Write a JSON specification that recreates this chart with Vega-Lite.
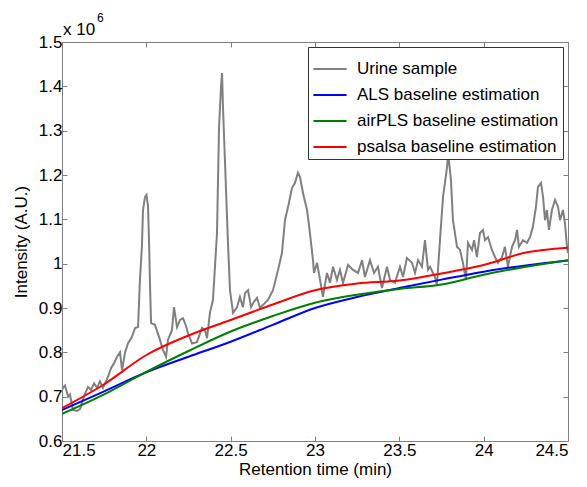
{
  "$schema": "https://vega.github.io/schema/vega-lite/v6.json",
  "width": 506,
  "height": 399,
  "autosize": {"type": "none"},
  "padding": {"left": 62, "top": 42, "right": 19, "bottom": 46},
  "background": "white",
  "config": {
    "font": "Liberation Sans",
    "view": {"stroke": "#808080", "strokeWidth": 1},
    "axis": {"grid": false, "domain": false, "tickColor": "#808080", "labelColor": "black", "titleColor": "black", "labelFont": "Liberation Sans", "titleFont": "Liberation Sans", "titleFontWeight": "normal", "labelFontSize": 17, "titleFontSize": 17}
  },
  "datasets": {
    "urine": [
      {"t": 21.500, "v": 0.715}, {"t": 21.506, "v": 0.720}, {"t": 21.518, "v": 0.725}, {"t": 21.536, "v": 0.700}, {"t": 21.547, "v": 0.705},
      {"t": 21.565, "v": 0.670}, {"t": 21.589, "v": 0.668}, {"t": 21.607, "v": 0.672}, {"t": 21.630, "v": 0.700}, {"t": 21.654, "v": 0.722},
      {"t": 21.672, "v": 0.715}, {"t": 21.690, "v": 0.730}, {"t": 21.708, "v": 0.720}, {"t": 21.725, "v": 0.735}, {"t": 21.743, "v": 0.720},
      {"t": 21.773, "v": 0.745}, {"t": 21.791, "v": 0.765}, {"t": 21.808, "v": 0.775}, {"t": 21.826, "v": 0.790}, {"t": 21.844, "v": 0.800},
      {"t": 21.856, "v": 0.760}, {"t": 21.874, "v": 0.800}, {"t": 21.891, "v": 0.820}, {"t": 21.915, "v": 0.835}, {"t": 21.933, "v": 0.855},
      {"t": 21.951, "v": 0.857}, {"t": 21.962, "v": 0.963}, {"t": 21.974, "v": 1.040}, {"t": 21.980, "v": 1.120}, {"t": 21.992, "v": 1.150},
      {"t": 22.001, "v": 1.155}, {"t": 22.010, "v": 1.130}, {"t": 22.016, "v": 1.050}, {"t": 22.022, "v": 0.950}, {"t": 22.028, "v": 0.866},
      {"t": 22.051, "v": 0.862}, {"t": 22.081, "v": 0.828}, {"t": 22.099, "v": 0.805}, {"t": 22.117, "v": 0.790}, {"t": 22.128, "v": 0.828},
      {"t": 22.152, "v": 0.850}, {"t": 22.164, "v": 0.902}, {"t": 22.182, "v": 0.857}, {"t": 22.200, "v": 0.873}, {"t": 22.217, "v": 0.877},
      {"t": 22.235, "v": 0.860}, {"t": 22.247, "v": 0.843}, {"t": 22.271, "v": 0.820}, {"t": 22.300, "v": 0.823}, {"t": 22.330, "v": 0.855},
      {"t": 22.348, "v": 0.850}, {"t": 22.360, "v": 0.832}, {"t": 22.377, "v": 0.889}, {"t": 22.395, "v": 0.918}, {"t": 22.419, "v": 1.069},
      {"t": 22.431, "v": 1.308}, {"t": 22.443, "v": 1.400}, {"t": 22.449, "v": 1.430}, {"t": 22.455, "v": 1.347}, {"t": 22.466, "v": 1.234},
      {"t": 22.484, "v": 1.047}, {"t": 22.496, "v": 0.940}, {"t": 22.514, "v": 0.889}, {"t": 22.538, "v": 0.902}, {"t": 22.555, "v": 0.925},
      {"t": 22.573, "v": 0.902}, {"t": 22.585, "v": 0.934}, {"t": 22.603, "v": 0.940}, {"t": 22.621, "v": 0.902}, {"t": 22.638, "v": 0.914},
      {"t": 22.656, "v": 0.923}, {"t": 22.674, "v": 0.900}, {"t": 22.692, "v": 0.907}, {"t": 22.721, "v": 0.918}, {"t": 22.751, "v": 0.940},
      {"t": 22.781, "v": 0.986}, {"t": 22.804, "v": 1.024}, {"t": 22.822, "v": 1.098}, {"t": 22.840, "v": 1.128}, {"t": 22.864, "v": 1.171},
      {"t": 22.881, "v": 1.182}, {"t": 22.899, "v": 1.205}, {"t": 22.911, "v": 1.196}, {"t": 22.929, "v": 1.159}, {"t": 22.953, "v": 1.121},
      {"t": 22.970, "v": 1.069}, {"t": 22.988, "v": 1.008}, {"t": 22.994, "v": 0.979}, {"t": 23.012, "v": 1.002}, {"t": 23.030, "v": 0.963},
      {"t": 23.047, "v": 0.925}, {"t": 23.071, "v": 0.979}, {"t": 23.089, "v": 0.957}, {"t": 23.107, "v": 0.993}, {"t": 23.130, "v": 0.963},
      {"t": 23.148, "v": 0.986}, {"t": 23.166, "v": 0.957}, {"t": 23.196, "v": 0.997}, {"t": 23.225, "v": 0.986}, {"t": 23.255, "v": 0.979},
      {"t": 23.279, "v": 1.008}, {"t": 23.296, "v": 0.970}, {"t": 23.326, "v": 1.008}, {"t": 23.350, "v": 0.979}, {"t": 23.373, "v": 0.993},
      {"t": 23.397, "v": 0.945}, {"t": 23.427, "v": 0.993}, {"t": 23.445, "v": 0.963}, {"t": 23.474, "v": 0.957}, {"t": 23.504, "v": 0.993},
      {"t": 23.522, "v": 0.970}, {"t": 23.545, "v": 1.013}, {"t": 23.575, "v": 1.002}, {"t": 23.593, "v": 0.979}, {"t": 23.611, "v": 1.008},
      {"t": 23.634, "v": 0.993}, {"t": 23.652, "v": 1.053}, {"t": 23.670, "v": 0.986}, {"t": 23.682, "v": 0.993}, {"t": 23.711, "v": 0.970},
      {"t": 23.723, "v": 0.952}, {"t": 23.741, "v": 1.053}, {"t": 23.759, "v": 1.150}, {"t": 23.783, "v": 1.218}, {"t": 23.789, "v": 1.250},
      {"t": 23.806, "v": 1.189}, {"t": 23.818, "v": 1.098}, {"t": 23.842, "v": 1.038}, {"t": 23.860, "v": 1.031}, {"t": 23.877, "v": 1.002},
      {"t": 23.895, "v": 0.963}, {"t": 23.907, "v": 1.047}, {"t": 23.931, "v": 1.031}, {"t": 23.943, "v": 1.053}, {"t": 23.960, "v": 1.015},
      {"t": 23.978, "v": 1.069}, {"t": 23.996, "v": 1.076}, {"t": 24.008, "v": 1.053}, {"t": 24.026, "v": 1.060}, {"t": 24.049, "v": 1.031},
      {"t": 24.067, "v": 1.015}, {"t": 24.085, "v": 1.002}, {"t": 24.109, "v": 1.015}, {"t": 24.126, "v": 1.038}, {"t": 24.144, "v": 0.993},
      {"t": 24.168, "v": 1.038}, {"t": 24.186, "v": 1.053}, {"t": 24.198, "v": 1.076}, {"t": 24.209, "v": 1.038}, {"t": 24.233, "v": 1.053},
      {"t": 24.257, "v": 1.047}, {"t": 24.275, "v": 1.060}, {"t": 24.292, "v": 1.083}, {"t": 24.310, "v": 1.128}, {"t": 24.322, "v": 1.173},
      {"t": 24.340, "v": 1.182}, {"t": 24.352, "v": 1.150}, {"t": 24.364, "v": 1.098}, {"t": 24.375, "v": 1.121}, {"t": 24.387, "v": 1.076},
      {"t": 24.405, "v": 1.121}, {"t": 24.423, "v": 1.144}, {"t": 24.441, "v": 1.128}, {"t": 24.453, "v": 1.098}, {"t": 24.470, "v": 1.121},
      {"t": 24.482, "v": 1.092}, {"t": 24.494, "v": 1.038}, {"t": 24.500, "v": 1.024}
    ],
    "baselines": [
      {"s": "ALS baseline estimation", "t": 21.5, "v": 0.670}, {"s": "ALS baseline estimation", "t": 21.75, "v": 0.712},
      {"s": "ALS baseline estimation", "t": 22.0, "v": 0.755}, {"s": "ALS baseline estimation", "t": 22.25, "v": 0.790},
      {"s": "ALS baseline estimation", "t": 22.5, "v": 0.824}, {"s": "ALS baseline estimation", "t": 22.75, "v": 0.862},
      {"s": "ALS baseline estimation", "t": 23.0, "v": 0.900}, {"s": "ALS baseline estimation", "t": 23.25, "v": 0.925},
      {"s": "ALS baseline estimation", "t": 23.5, "v": 0.945}, {"s": "ALS baseline estimation", "t": 23.75, "v": 0.964},
      {"s": "ALS baseline estimation", "t": 24.0, "v": 0.982}, {"s": "ALS baseline estimation", "t": 24.25, "v": 0.996},
      {"s": "ALS baseline estimation", "t": 24.5, "v": 1.007},
      {"s": "airPLS baseline estimation", "t": 21.5, "v": 0.661}, {"s": "airPLS baseline estimation", "t": 21.75, "v": 0.705},
      {"s": "airPLS baseline estimation", "t": 22.0, "v": 0.756}, {"s": "airPLS baseline estimation", "t": 22.25, "v": 0.803},
      {"s": "airPLS baseline estimation", "t": 22.5, "v": 0.847}, {"s": "airPLS baseline estimation", "t": 22.75, "v": 0.882},
      {"s": "airPLS baseline estimation", "t": 23.0, "v": 0.912}, {"s": "airPLS baseline estimation", "t": 23.25, "v": 0.930},
      {"s": "airPLS baseline estimation", "t": 23.5, "v": 0.943}, {"s": "airPLS baseline estimation", "t": 23.75, "v": 0.953},
      {"s": "airPLS baseline estimation", "t": 24.0, "v": 0.975}, {"s": "airPLS baseline estimation", "t": 24.25, "v": 0.993},
      {"s": "airPLS baseline estimation", "t": 24.5, "v": 1.008},
      {"s": "psalsa baseline estimation", "t": 21.5, "v": 0.674}, {"s": "psalsa baseline estimation", "t": 21.75, "v": 0.728},
      {"s": "psalsa baseline estimation", "t": 22.0, "v": 0.794}, {"s": "psalsa baseline estimation", "t": 22.25, "v": 0.838},
      {"s": "psalsa baseline estimation", "t": 22.5, "v": 0.873}, {"s": "psalsa baseline estimation", "t": 22.75, "v": 0.908},
      {"s": "psalsa baseline estimation", "t": 23.0, "v": 0.940}, {"s": "psalsa baseline estimation", "t": 23.25, "v": 0.955},
      {"s": "psalsa baseline estimation", "t": 23.5, "v": 0.962}, {"s": "psalsa baseline estimation", "t": 23.75, "v": 0.978},
      {"s": "psalsa baseline estimation", "t": 24.0, "v": 0.997}, {"s": "psalsa baseline estimation", "t": 24.25, "v": 1.025},
      {"s": "psalsa baseline estimation", "t": 24.5, "v": 1.036}
    ]
  },
  "layer": [
    {
      "data": {"name": "urine"},
      "transform": [{"calculate": "'Urine sample'", "as": "s"}],
      "mark": {"type": "line", "strokeWidth": 2, "clip": true},
      "encoding": {
        "x": {"field": "t", "type": "quantitative", "scale": {"domain": [21.5, 24.5], "nice": false, "zero": false},
          "axis": {"orient": "bottom", "title": "Retention time (min)", "values": [21.5, 22, 22.5, 23, 23.5, 24, 24.5], "format": "~g", "tickSize": -5, "labelPadding": 6, "titlePadding": 3}},
        "y": {"field": "v", "type": "quantitative", "scale": {"domain": [0.6, 1.5], "nice": false, "zero": false},
          "axis": {"orient": "left", "title": "Intensity (A.U.)", "values": [0.6, 0.7, 0.8, 0.9, 1, 1.1, 1.2, 1.3, 1.4, 1.5], "format": "~g", "tickSize": -5, "labelPadding": 5, "titlePadding": 8}},
        "color": {"field": "s", "type": "nominal",
          "scale": {"domain": ["Urine sample", "ALS baseline estimation", "airPLS baseline estimation", "psalsa baseline estimation"], "range": ["#808080", "#0000ff", "#008000", "#ff0000"]},
          "legend": {"title": null, "orient": "top-right", "offset": 5, "symbolType": "stroke", "symbolSize": 1100, "symbolStrokeWidth": 2, "labelFontSize": 17, "labelFont": "Liberation Sans", "labelColor": "black", "labelOffset": 9, "rowPadding": -6, "padding": 4, "fillColor": "white", "strokeColor": "#333333", "labelLimit": 400}}
      }
    },
    {
      "data": {"name": "baselines"},
      "mark": {"type": "line", "strokeWidth": 2, "interpolate": "monotone", "clip": true},
      "encoding": {
        "x": {"field": "t", "type": "quantitative", "axis": null},
        "y": {"field": "v", "type": "quantitative", "axis": null},
        "color": {"field": "s", "type": "nominal"}
      }
    },
    {
      "data": {"values": [{"t": 21.5, "v": 1.5}]},
      "mark": {"type": "text", "text": "x 10", "align": "left", "baseline": "alphabetic", "fontSize": 17, "dy": -7, "dx": 1, "font": "Liberation Sans"},
      "encoding": {
        "x": {"field": "t", "type": "quantitative", "axis": {"orient": "top", "labels": false, "title": null, "values": [21.5, 22, 22.5, 23, 23.5, 24, 24.5], "tickSize": -5}},
        "y": {"field": "v", "type": "quantitative", "axis": {"orient": "right", "labels": false, "title": null, "values": [0.6, 0.7, 0.8, 0.9, 1, 1.1, 1.2, 1.3, 1.4, 1.5], "tickSize": -5}}
      }
    },
    {
      "data": {"values": [{"t": 21.5, "v": 1.5}]},
      "mark": {"type": "text", "text": "6", "align": "left", "baseline": "alphabetic", "fontSize": 12, "dy": -20, "dx": 35, "font": "Liberation Sans"},
      "encoding": {
        "x": {"field": "t", "type": "quantitative", "axis": null},
        "y": {"field": "v", "type": "quantitative", "axis": null}
      }
    }
  ],
  "resolve": {"axis": {"x": "independent", "y": "independent"}}
}
